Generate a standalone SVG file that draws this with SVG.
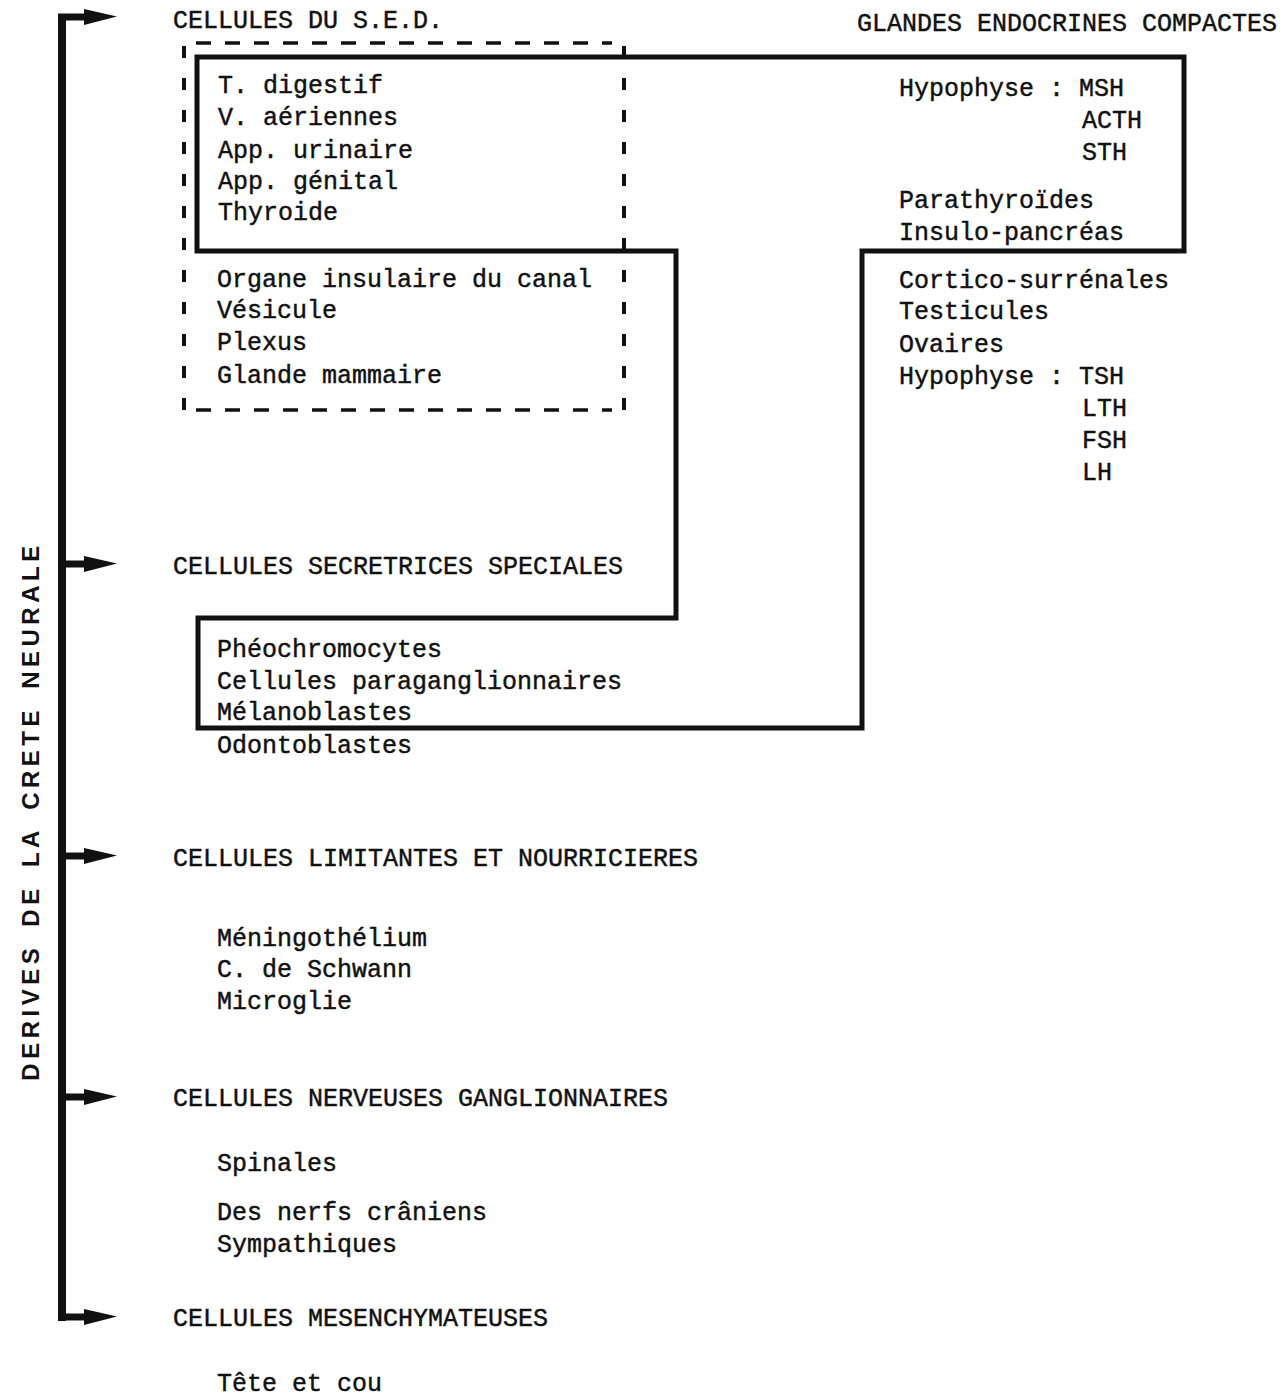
<svg xmlns="http://www.w3.org/2000/svg" width="1284" height="1397" viewBox="0 0 1284 1397">
<defs>
<style>
.t{font-family:"Liberation Mono","Courier New",monospace;font-size:25px;fill:#111;stroke:#111;stroke-width:0.45;}
.v{font-family:"Liberation Sans",Arial,sans-serif;font-size:24px;font-weight:bold;fill:#111;letter-spacing:4.5px;word-spacing:6px;}
.thick{fill:none;stroke:#111;stroke-width:5;stroke-linejoin:miter;}
.dh{fill:none;stroke:#111;stroke-width:3.5;stroke-dasharray:15 14;}
.dv{fill:none;stroke:#111;stroke-width:4;stroke-dasharray:12 20;}
.br{fill:none;stroke:#111;stroke-width:8;}
.ar{fill:none;stroke:#111;stroke-width:7;}
</style>
<marker id="ah" markerUnits="userSpaceOnUse" markerWidth="34" markerHeight="18" refX="2" refY="9" orient="auto">
<path d="M0,1 L33,8.5 L0,17 Z" fill="#111"/>
</marker>
</defs>
<rect width="1284" height="1397" fill="#fff"/>

<g id="connectors">
<path class="br" d="M62,1321 V14"/>
<line class="ar" x1="58" y1="17" x2="86" y2="17" marker-end="url(#ah)"/>
<line class="ar" x1="58" y1="564" x2="86" y2="564" marker-end="url(#ah)"/>
<line class="ar" x1="58" y1="856" x2="86" y2="856" marker-end="url(#ah)"/>
<line class="ar" x1="58" y1="1097" x2="86" y2="1097" marker-end="url(#ah)"/>
<line class="ar" x1="58" y1="1317" x2="86" y2="1317" marker-end="url(#ah)"/>
</g>

<g id="title">
<text class="v" transform="translate(39,811) rotate(-90)" text-anchor="middle">DERIVES DE LA CRETE NEURALE</text>
</g>

<g id="endocrine-outline">
<path class="thick" d="M197,57 H1184 V251 H862 V728 H198 V618 H676 V251 H197 Z"/>
</g>

<g id="sed">
<text class="t" x="173" y="28">CELLULES DU S.E.D.</text>
<line class="dh" x1="196" y1="43" x2="612" y2="43"/>
<line class="dh" x1="196" y1="410" x2="612" y2="410"/>
<line class="dv" x1="184" y1="46" x2="184" y2="412"/>
<line class="dv" x1="624" y1="46" x2="624" y2="412"/>
<text class="t" x="218" y="93">T. digestif</text>
<text class="t" x="218" y="125">V. aériennes</text>
<text class="t" x="218" y="158">App. urinaire</text>
<text class="t" x="218" y="189">App. génital</text>
<text class="t" x="218" y="220">Thyroide</text>
<text class="t" x="217" y="287">Organe insulaire du canal</text>
<text class="t" x="217" y="318">Vésicule</text>
<text class="t" x="217" y="350">Plexus</text>
<text class="t" x="217" y="383">Glande mammaire</text>
</g>

<g id="glandes">
<text class="t" x="857" y="31">GLANDES ENDOCRINES COMPACTES</text>
<text class="t" x="899" y="96">Hypophyse : MSH</text>
<text class="t" x="1082" y="128">ACTH</text>
<text class="t" x="1082" y="160">STH</text>
<text class="t" x="899" y="208">Parathyroïdes</text>
<text class="t" x="899" y="240">Insulo-pancréas</text>
<text class="t" x="899" y="288">Cortico-surrénales</text>
<text class="t" x="899" y="319">Testicules</text>
<text class="t" x="899" y="352">Ovaires</text>
<text class="t" x="899" y="384">Hypophyse : TSH</text>
<text class="t" x="1082" y="416">LTH</text>
<text class="t" x="1082" y="448">FSH</text>
<text class="t" x="1082" y="480">LH</text>
</g>

<g id="secretrices">
<text class="t" x="173" y="574">CELLULES SECRETRICES SPECIALES</text>
<text class="t" x="217" y="657">Phéochromocytes</text>
<text class="t" x="217" y="689">Cellules paraganglionnaires</text>
<text class="t" x="217" y="720">Mélanoblastes</text>
<text class="t" x="217" y="753">Odontoblastes</text>
</g>

<g id="limitantes">
<text class="t" x="173" y="866">CELLULES LIMITANTES ET NOURRICIERES</text>
<text class="t" x="217" y="946">Méningothélium</text>
<text class="t" x="217" y="977">C. de Schwann</text>
<text class="t" x="217" y="1009">Microglie</text>
</g>

<g id="nerveuses">
<text class="t" x="173" y="1106">CELLULES NERVEUSES GANGLIONNAIRES</text>
<text class="t" x="217" y="1171">Spinales</text>
<text class="t" x="217" y="1220">Des nerfs crâniens</text>
<text class="t" x="217" y="1252">Sympathiques</text>
</g>

<g id="mesenchymateuses">
<text class="t" x="173" y="1326">CELLULES MESENCHYMATEUSES</text>
<text class="t" x="217" y="1391">Tête et cou</text>
</g>
</svg>
